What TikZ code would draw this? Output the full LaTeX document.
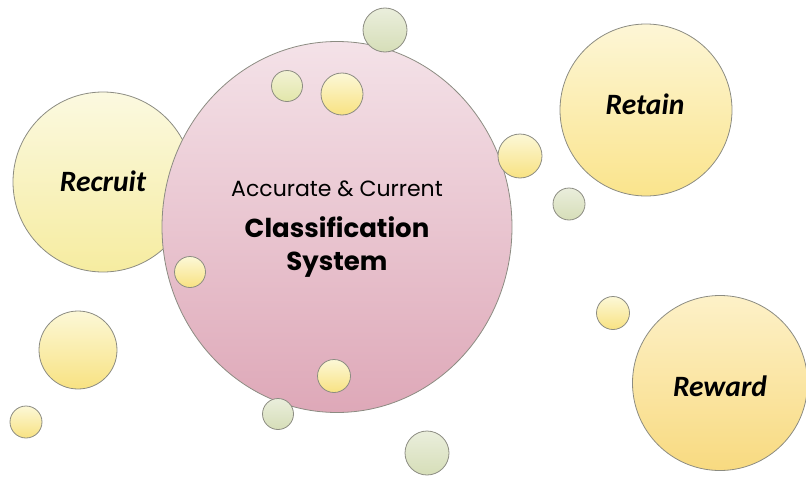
\documentclass[tikz,border=0pt]{standalone}
\usepackage{fontspec}
\setmainfont{Carlito}
\newfontfamily\gothic{Poppins}
\usetikzlibrary{shapes.geometric}
\definecolor{pinkT}{RGB}{244,226,232}
\definecolor{pinkB}{RGB}{222,168,184}
\definecolor{ylT}{RGB}{251,249,224}
\definecolor{ylB}{RGB}{246,236,160}
\definecolor{rtT}{RGB}{253,246,214}
\definecolor{rtB}{RGB}{250,228,140}
\definecolor{rwT}{RGB}{253,241,200}
\definecolor{rwB}{RGB}{248,218,128}
\definecolor{syT}{RGB}{252,248,215}
\definecolor{syB}{RGB}{248,226,130}
\definecolor{sgT}{RGB}{242,242,212}
\definecolor{sgB}{RGB}{226,230,170}
\definecolor{ggT}{RGB}{234,238,220}
\definecolor{ggB}{RGB}{214,222,184}
\definecolor{edge}{RGB}{140,140,130}
\tikzset{
  bubble/.style={circle, draw=edge, line width=0.8pt, inner sep=0pt, minimum size=#1},
  bigword/.style={font=\fontsize{29.5}{31}\selectfont\bfseries\itshape, text=black},
  sy/.style={top color=syT, bottom color=syB},
  sg/.style={top color=sgT, bottom color=sgB},
  gg/.style={top color=ggT, bottom color=ggB}
}
\begin{document}
\begin{tikzpicture}[x=1pt,y=-1pt]
\useasboundingbox (0,0) rectangle (806,479);
% Recruit behind main
\node[bubble=180pt, top color=ylT, bottom color=ylB] (recruit) at (103,182) {};
\node[bigword] (recruitT) at (103,181) {Recruit};
% main ellipse
\node[ellipse, draw=edge, line width=0.8pt, inner sep=0pt, minimum width=350pt, minimum height=371pt, top color=pinkT, bottom color=pinkB] (main) at (337,227) {};
\node[font=\gothic\fontsize{22}{24}\selectfont] (acc) at (337,189) {Accurate \& Current};
\node[font=\gothic\bfseries\fontsize{26}{33}\selectfont, align=center] (cls) at (337,247) {Classification\\System};
% small bubbles
\node[bubble=44pt, gg] (b1) at (385,30) {};
\node[bubble=31pt, sg] (b2) at (287,86) {};
\node[bubble=42pt, sy] (b3) at (342,94) {};
\node[bubble=44pt, sy] (b4) at (520,156) {};
\node[bubble=32pt, gg] (b5) at (569,204) {};
\node[bubble=31pt, sy] (b6) at (190,272) {};
\node[bubble=33pt, sy] (b7) at (613,313) {};
\node[bubble=78pt, sy] (b8) at (78,350) {};
\node[bubble=32pt, sy] (b9) at (26,422) {};
\node[bubble=33pt, sy] (b10) at (334,376) {};
\node[bubble=31pt, gg] (b11) at (278,414) {};
\node[bubble=44pt, gg] (b12) at (427,453) {};
% Retain and Reward
\node[bubble=172pt, top color=rtT, bottom color=rtB] (retain) at (646,110) {};
\node[bigword] (retainT) at (645,104) {Retain};
\node[bubble=175pt, top color=rwT, bottom color=rwB] (reward) at (720,383) {};
\node[bigword] (rewardT) at (720,386) {Reward};
\end{tikzpicture}
\end{document}
